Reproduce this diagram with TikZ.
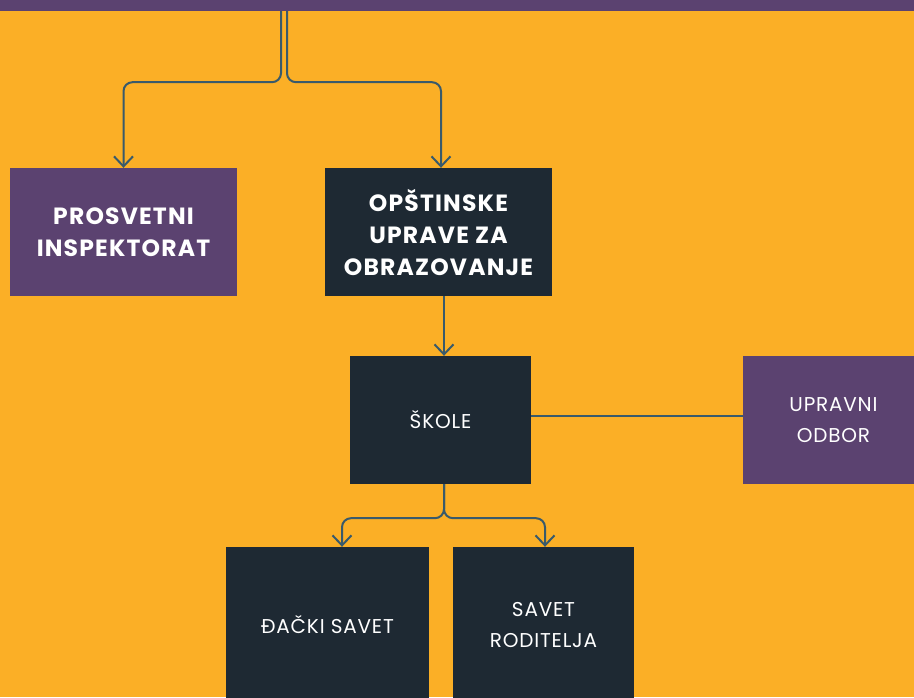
\documentclass[tikz,border=0pt]{standalone}
\usepackage{fontspec}
\setmainfont{Poppins}
\usetikzlibrary{arrows.meta,positioning}
\definecolor{bgorange}{HTML}{FBAF26}
\definecolor{plum}{HTML}{5B4270}
\definecolor{ink}{HTML}{1E2933}
\definecolor{wire}{HTML}{395A6B}
\tikzset{
  box/.style={rectangle, inner sep=0pt, text=white, align=center},
  head/.style={box, font=\fontsize{23.5}{32}\selectfont\bfseries\addfontfeature{LetterSpace=5}},
  plain/.style={box, font=\fontsize{20}{31}\selectfont\addfontfeature{LetterSpace=4}},
  link/.style={draw=wire, line width=2pt, rounded corners=9pt},
  arr/.style={link, -{Straight Barb[length=10pt,width=19pt]}}
}
\begin{document}
\begin{tikzpicture}[x=1pt,y=-1pt]
         \clip (0,0) rectangle (914,697);
         \fill [bgorange] (0,0) rectangle (914,697);
         \node [box, fill=plum, minimum width=914pt, minimum height=11pt] (top) at (457, 5.5) {};
         \node [head, fill=plum, minimum width=227pt, minimum height=128pt] (prosv) at (123.5, 232) {PROSVETNI\\INSPEKTORAT};
         \node [head, fill=ink, minimum width=227pt, minimum height=128pt] (opst) at (438.5, 232) {OPŠTINSKE\\UPRAVE ZA\\OBRAZOVANJE};
         \node [plain, fill=ink, minimum width=181pt, minimum height=128pt] (skole) at (440.5, 420) {ŠKOLE};
         \node [plain, fill=plum, minimum width=181pt, minimum height=128pt] (odbor) at (833.5, 420) {UPRAVNI\\ODBOR};
         \node [plain, fill=ink, minimum width=203pt, minimum height=156pt] (dacki) at (327.5, 625) {ĐAČKI SAVET};
         \node [plain, fill=ink, minimum width=181pt, minimum height=156pt] (rod) at (543.5, 625) {SAVET\\RODITELJA};
         \draw [arr] ([xshift=-176pt]top.south) -- ++(0, 71) -| (prosv.north);
         \draw [arr] ([xshift=-170pt]top.south) -- ++(0, 71) -| ([xshift=2.5pt]opst.north);
         \draw [arr] ([xshift=5.5pt]opst.south) -- ([xshift=5.5pt]opst.south |- skole.north);
         \draw [arr] ([xshift=3.5pt]skole.south) -- ++(0, 34) -| ([xshift=14.5pt]dacki.north);
         \draw [arr] ([xshift=3.5pt]skole.south) -- ++(0, 34) -| ([xshift=1.5pt]rod.north);
         \draw [link] ([yshift=4pt]skole.east) -- ([yshift=4pt]odbor.west);
\end{tikzpicture}
\end{document}
